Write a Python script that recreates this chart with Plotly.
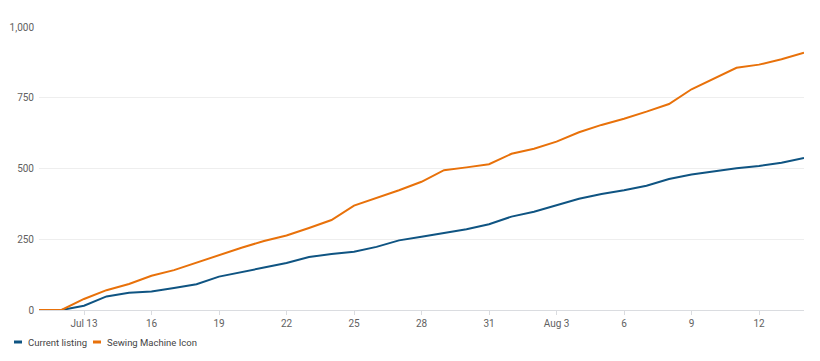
import plotly.graph_objects as go
import pandas as pd

dates = pd.date_range("2024-07-11", "2024-08-14", freq="D")

current_listing = [0, 0, 15, 48, 61, 65, 78, 91, 118, 135, 150, 166, 187, 198, 206, 223,
                   246, 259, 271, 285, 303, 330, 347, 371, 393, 410, 423, 439, 463, 479,
                   491, 501, 509, 520, 537]
sewing_machine_icon = [0, 0, 39, 70, 92, 121, 141, 168, 193, 220, 244, 263, 290, 318, 369, 395,
                       423, 453, 494, 504, 515, 552, 570, 595, 628, 654, 676, 701, 728, 780,
                       819, 856, 867, 886, 909]

tick_dates = pd.date_range("2024-07-13", "2024-08-12", freq="3D")
tick_labels = ["Jul 13", "16", "19", "22", "25", "28", "31", "Aug 3", "6", "9", "12"]

series_names = ["Current listing", "Sewing Machine Icon"]
series_colors = ["#0f5482", "#e8710a"]

fig = go.Figure()
for name, vals, col in zip(series_names, [current_listing, sewing_machine_icon], series_colors):
    fig.add_trace(go.Scatter(x=dates, y=vals, mode="lines", name=name,
                             line=dict(color=col, width=2), showlegend=False))

# page has an 8px body margin; figure is sized to fit inside the window
OFF = 8
W, H = 820 - OFF, 361 - OFF
L, R, T, B = 39 - OFF, 16, 27 - OFF, 51
pw, ph = W - L - R, H - T - B

def px_x(p):
    return (p - OFF - L) / pw

def px_y(p):
    return (H - B - (p - OFF)) / ph

# custom legend (short dash + label), page pixel positions
legend_items = [(14, 28), (93, 107)]
for (sx, tx), name, col in zip(legend_items, series_names, series_colors):
    fig.add_shape(type="line", xref="paper", yref="paper",
                  x0=px_x(sx), x1=px_x(sx + 8), y0=px_y(342), y1=px_y(342),
                  line=dict(color=col, width=3))
    fig.add_annotation(xref="paper", yref="paper", x=px_x(tx), y=px_y(342),
                       text=name, showarrow=False, xanchor="left", yanchor="middle",
                       xshift=-2, font=dict(family="Roboto", size=9.5, color="#444444"))

fig.update_layout(
    width=W, height=H,
    margin=dict(l=L, r=R, t=T, b=B, autoexpand=False),
    paper_bgcolor="white", plot_bgcolor="white",
    font=dict(family="Roboto", size=10, color="#616161"),
    showlegend=False,
    xaxis=dict(range=[dates[0], dates[-1]], tickvals=tick_dates, ticktext=tick_labels,
               showgrid=False, ticks="outside", ticklen=4, tickcolor="#dadce0",
               showline=True, linecolor="#dadce0", linewidth=1, zeroline=False,
               automargin=False),
    yaxis=dict(range=[0, 1000], tickvals=[0, 250, 500, 750, 1000],
               ticktext=["0", "250", "500", "750", "1,000"],
               showgrid=True, gridcolor="#eeeeee", gridwidth=1, zeroline=False,
               ticks="", ticklabelstandoff=4, automargin=False),
)

fig.write_html("out.html")
